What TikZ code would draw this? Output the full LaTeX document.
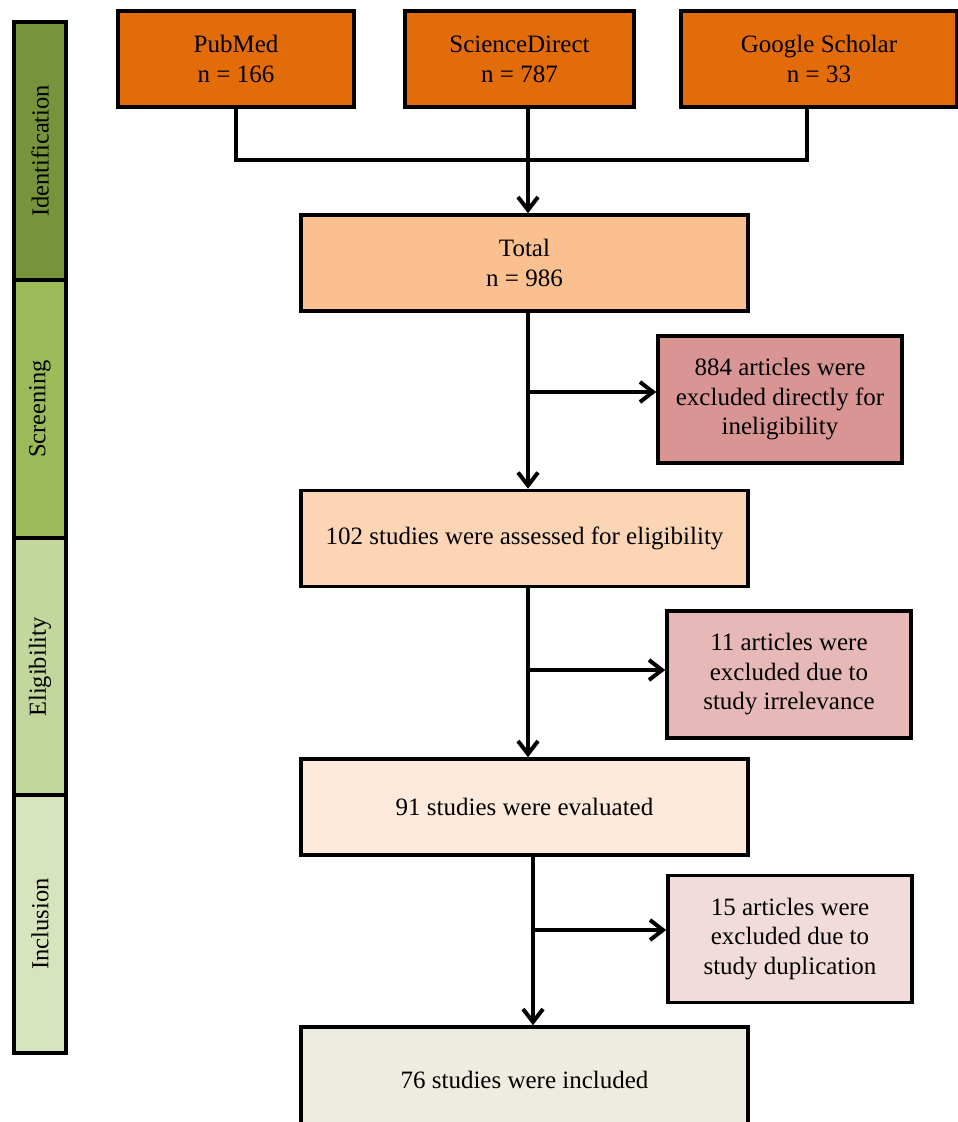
\documentclass[tikz,border=0pt]{standalone}
\usepackage{fontspec}
\setmainfont{Liberation Serif}
\usetikzlibrary{arrows.meta,positioning}

\definecolor{srcorange}{HTML}{E36C0A}
\definecolor{totalfill}{HTML}{FAC090}
\definecolor{assessfill}{HTML}{FCD5B5}
\definecolor{evalfill}{HTML}{FDEADA}
\definecolor{inclfill}{HTML}{EEECE1}
\definecolor{exclA}{HTML}{D99594}
\definecolor{exclB}{HTML}{E6B9B8}
\definecolor{exclC}{HTML}{F2DCDB}
\definecolor{phaseA}{HTML}{77933C}
\definecolor{phaseB}{HTML}{9BBB59}
\definecolor{phaseC}{HTML}{C3D69B}
\definecolor{phaseD}{HTML}{D7E4BD}

\begin{document}
\begin{tikzpicture}[x=1pt,y=-1pt,
    box/.style={draw, line width=3.5pt, align=center, inner sep=0pt,
        font=\fontsize{25}{30}\selectfont},
    srcbox/.style={box, fill=srcorange, minimum height=96pt},
    flowbox/.style={box, minimum width=447pt, minimum height=96pt},
    exclbox/.style={box, minimum width=244pt, minimum height=127pt,
        font=\fontsize{25}{29.5}\selectfont},
    phase/.style={draw, line width=3.5pt, rotate=90, minimum width=258pt,
        minimum height=52pt, inner sep=0pt, font=\fontsize{24.5}{28}\selectfont},
    flow/.style={line width=3.5pt},
    arr/.style={flow, -{Straight Barb[length=13pt,width=20pt,line width=4pt]}}]
    \clip (0,0) rectangle (958,1122);

    % phases
    \node[phase, fill=phaseA] (ident) at (40,151) {Identification};
    \node[phase, fill=phaseB] (screen) at (40,409) {Screening};
    \node[phase, fill=phaseC] (elig) at (40,667) {Eligibility};
    \node[phase, fill=phaseD] (incl) at (40,924) {Inclusion};

    % sources
    \node[srcbox, minimum width=236pt] (pub) at (236,59) {PubMed\\n = 166};
    \node[srcbox, minimum width=229pt] (sd) at (519.5,59) {ScienceDirect\\n = 787};
    \node[srcbox, minimum width=276pt] (gs) at (819,59) {Google Scholar\\n = 33};

    % main flow
    \node[flowbox, fill=totalfill] (total) at (524.5,263) {Total\\n = 986};
    \node[flowbox, fill=assessfill] (assess) at (524.5,538.5) {102 studies were assessed for eligibility};
    \node[flowbox, fill=evalfill] (eval) at (524.5,807) {91 studies were evaluated};
    \node[flowbox, fill=inclfill, minimum height=106pt] (final) at (524.5,1080) {76 studies were included};

    % exclusions
    \node[exclbox, fill=exclA] (exA) at (780,399.5) {884 articles were\\excluded directly for\\ineligibility};
    \node[exclbox, fill=exclB] (exB) at (789,674.5) {11 articles were\\excluded due to\\study irrelevance};
    \node[exclbox, fill=exclC] (exC) at (790,939) {15 articles were\\excluded due to\\study duplication};

    % connectors
    \coordinate (joinL) at (236,160);
    \coordinate (joinM) at (528,160);
    \coordinate (joinR) at (807,160);
    \draw[flow] (pub.south) -- (joinL) -- (joinR) -- ([xshift=-12pt]gs.south);
    \draw[flow] ([xshift=8.5pt]sd.south) -- (joinM);
    \draw[arr] (joinM) -- ([xshift=3.5pt]total.north);

    \coordinate (brA) at (528,392);
    \draw[arr] ([xshift=3.5pt]total.south) -- ([xshift=3.5pt]assess.north);
    \draw[arr] (brA) -- (brA -| exA.west);

    \coordinate (brB) at (528,670);
    \draw[arr] ([xshift=3.5pt]assess.south) -- ([xshift=3.5pt]eval.north);
    \draw[arr] (brB) -- (brB -| exB.west);

    \coordinate (brC) at (533,930);
    \draw[arr] ([xshift=8.5pt]eval.south) -- ([xshift=8.5pt]final.north);
    \draw[arr] (brC) -- (brC -| exC.west);
\end{tikzpicture}
\end{document}
